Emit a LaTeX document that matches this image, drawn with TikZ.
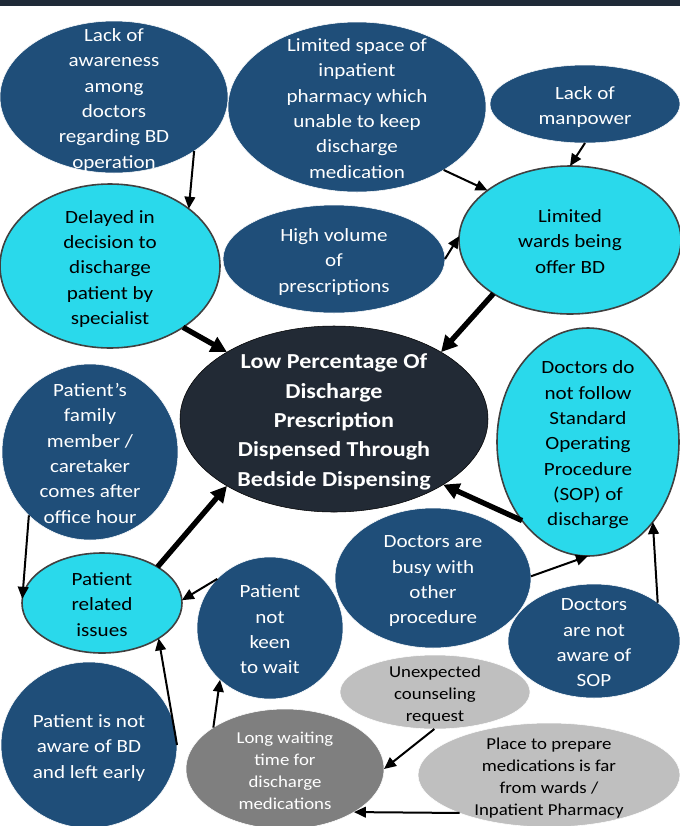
\documentclass[tikz,border=0pt]{standalone}
\usepackage{fontspec}
\setmainfont{Carlito}[FakeStretch=1.13]
\usetikzlibrary{shapes.geometric,arrows.meta}

\definecolor{navy}{HTML}{1F4E79}
\definecolor{skycyan}{HTML}{2AD9EB}
\definecolor{coreink}{HTML}{222A35}
\definecolor{palegray}{HTML}{BFBFBF}
\definecolor{midgray}{HTML}{7F7F7F}
\definecolor{topbar}{HTML}{1F2A38}

% centred block of lines that does not stretch its bubble
\newcommand{\bubtext}[1]{\smash{\makebox[0pt]{\raisebox{-0.4em}{\begin{tabular}{@{}c@{}}#1\end{tabular}}}}}

\begin{document}
\begin{tikzpicture}[x=0.75pt, y=-0.75pt,
    radii/.style 2 args={minimum width=1.5pt*#1, minimum height=1.5pt*#2},
    bub/.style={ellipse, inner sep=0pt, outer sep=0pt, font=\fontsize{14}{19}\selectfont},
    bluebub/.style={bub, fill=navy, draw=white, text=white},
    cyanbub/.style={bub, fill=skycyan, draw=black!75, line width=1.2pt, text=black},
    palebub/.style={bub, fill=palegray, draw=white, text=black, font=\fontsize{12.5}{16.5}\selectfont},
    greybub/.style={bub, fill=midgray, draw=white, text=white, font=\fontsize{12.5}{16.5}\selectfont},
    corebub/.style={bub, fill=coreink, draw=black, text=white, font=\fontsize{16}{22}\selectfont\bfseries},
    link/.style={-{Triangle[length=9pt,width=8pt]}, line width=1.5pt},
    heavy/.style={-{Triangle[length=12pt,width=12pt]}, line width=4pt}]

    % --- FRAME ---
    \useasboundingbox (0,0) rectangle (680,826);
    \fill[white] (0,0) rectangle (680,826);
    \fill[topbar] (0,0) rectangle (680,6);

    % --- CAUSES (top row) ---
    \node[bluebub, radii={114}{76}] (lack) at (114,97)
        {\bubtext{Lack of\\awareness\\among\\doctors\\regarding BD\\operation}};
    \node[bluebub, radii={129}{85}] (space) at (357,107)
        {\bubtext{Limited space of\\inpatient\\pharmacy which\\unable to keep\\discharge\\medication}};
    \node[bluebub, radii={95}{39}] (manpower) at (585,104)
        {\bubtext{Lack of\\manpower}};

    % --- SECOND ROW ---
    \node[cyanbub, radii={110}{82}] (delay) at (110,266)
        {\bubtext{Delayed in\\decision to\\discharge\\patient by\\specialist}};
    \node[bluebub, radii={111}{54}] (volume) at (334,259)
        {\bubtext{High volume\\of\\prescriptions}};
    \node[cyanbub, radii={111}{74}] (wards) at (570,240)
        {\bubtext{Limited\\wards being\\offer BD}};

    % --- THE PROBLEM ---
    \node[corebub, radii={154}{93}] (core) at (334,419)
        {\bubtext{Low Percentage Of\\Discharge\\Prescription\\Dispensed Through\\Bedside Dispensing}};

    % --- MIDDLE ---
    \node[bluebub, radii={88}{88}] (family) at (90,452)
        {\bubtext{Patient’s\\family\\member /\\caretaker\\comes after\\office hour}};
    \node[cyanbub, radii={91}{114}] (sop) at (588,442)
        {\bubtext{Doctors do\\not follow\\Standard\\Operating\\Procedure\\(SOP) of\\discharge}};
    \node[cyanbub, radii={80}{50}] (patrel) at (102,603)
        {\bubtext{Patient\\related\\issues}};
    \node[bluebub, radii={73}{71}] (keen) at (270,628)
        {\bubtext{Patient\\not\\keen\\to wait}};
    \node[bluebub, radii={98}{70}] (busy) at (433,578)
        {\bubtext{Doctors are\\busy with\\other\\procedure}};
    \node[bluebub, radii={86}{57}] (notaware) at (594,641)
        {\bubtext{Doctors\\are not\\aware of\\SOP}};

    % --- BOTTOM ---
    \node[palebub, radii={95}{37}] (unexp) at (435,692)
        {\bubtext{Unexpected\\counseling\\request}};
    \node[bluebub, radii={88}{83}] (early) at (89,745)
        {\bubtext{Patient is not\\aware of BD\\and left early}};
    \node[greybub, radii={99}{60}] (longwait) at (285,769)
        {\bubtext{Long waiting\\time for\\discharge\\medications}};
    \node[palebub, radii={131}{52}] (place) at (549,775)
        {\bubtext{Place to prepare\\medications is far\\from wards /\\Inpatient Pharmacy}};

    % --- THIN ARROWS ---
    \draw[link] (lack.-34.5) -- (delay.36);
    \draw[link] (space.-36) -- (wards.149);
    \draw[link] (manpower.-90) -- (wards.90);
    \draw[link] (volume.0) -- (wards.178);
    \draw[link] (family.226) -- (patrel.177);
    \draw[link] (keen.137) -- (patrel.2);
    \draw[link] (early.0) -- (patrel.-32);
    \draw[link] (longwait.150) -- (keen.226);
    \draw[link] (busy.1) -- (sop.-90);
    \draw[link] (notaware.31) -- (sop.-51);
    \draw[link] (unexp.-91) -- (longwait.0);
    \draw[link] (place.203) -- (longwait.-32);

    % --- THICK ARROWS INTO THE PROBLEM ---
    \draw[heavy] (delay.-40) -- (core.148);
    \draw[heavy] (wards.215) -- (core.32);
    \draw[heavy] (sop.230) -- (core.-31);
    \draw[heavy] (patrel.33) -- (core.212);

\end{tikzpicture}
\end{document}
